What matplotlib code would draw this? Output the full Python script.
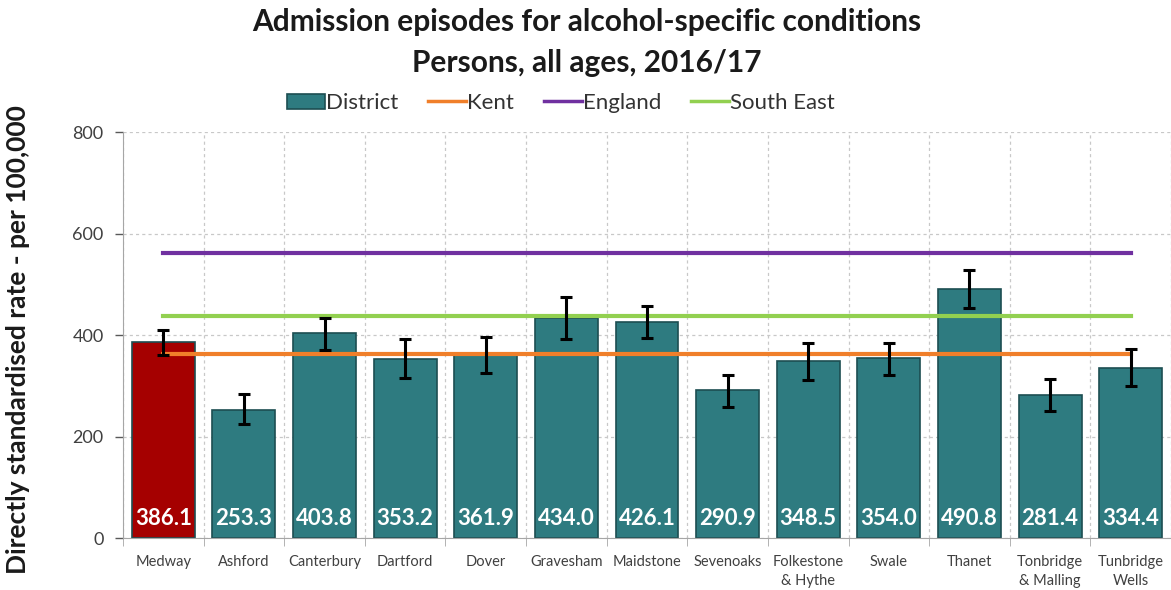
import matplotlib
matplotlib.use("Agg")
import matplotlib.pyplot as plt
from matplotlib.lines import Line2D
from matplotlib.patches import Patch
import numpy as np

districts = ["Medway", "Ashford", "Canterbury", "Dartford", "Dover", "Gravesham",
             "Maidstone", "Sevenoaks", "Folkestone\n& Hythe", "Swale", "Thanet",
             "Tonbridge\n& Malling", "Tunbridge\nWells"]
rates = [386.1, 253.3, 403.8, 353.2, 361.9, 434.0, 426.1, 290.9, 348.5, 354.0, 490.8, 281.4, 334.4]
ci_lower = [361, 225, 370, 315, 326, 392, 395, 259, 311, 321, 453, 251, 300]
ci_upper = [410, 283, 433, 392, 397, 475, 457, 321, 385, 385, 528, 313, 372]
kent = 362
england = 561
south_east = 437

teal = "#2E7B80"
edge = "#1C4E52"
red = "#A50000"
c_kent = "#F07F2A"
c_eng = "#7030A0"
c_se = "#92D050"

plt.rcParams["font.family"] = ["Lato", "DejaVu Sans"]

fig = plt.figure(figsize=(11.71, 5.90), dpi=100)
ax = fig.add_axes([0.105, 0.088, 0.895, 0.688])

n = len(districts)
x = np.arange(n)
colors = [red] + [teal] * (n - 1)
ax.bar(x, rates, width=0.78, color=colors, edgecolor=edge, linewidth=1.2, zorder=2)

ax.plot([x[0], x[-1]], [kent, kent], color=c_kent, lw=3, zorder=3)
ax.plot([x[0], x[-1]], [england, england], color=c_eng, lw=3, zorder=3)
ax.plot([x[0], x[-1]], [south_east, south_east], color=c_se, lw=3, zorder=3)

r = np.array(rates)
yerr = np.vstack([r - np.array(ci_lower), np.array(ci_upper) - r])
ax.errorbar(x, r, yerr=yerr, fmt="none", ecolor="black", elinewidth=2.2,
            capsize=4, capthick=2.2, zorder=4)

for xi, v in zip(x, rates):
    ax.text(xi, 38, f"{v:.1f}", ha="center", va="center", color="white",
            fontsize=16, fontweight="bold", zorder=5)

ax.set_xlim(-0.5, n - 0.5)
ax.set_ylim(0, 800)
ax.set_yticks([0, 200, 400, 600, 800])
ax.tick_params(axis="y", labelsize=13, colors="#595959", length=6, width=1, pad=8)
ax.tick_params(axis="y", labelcolor="#404040")

ax.set_xticks(x)
ax.set_xticklabels(districts, fontsize=10.5, color="#404040", va="top", linespacing=1.45)
ax.tick_params(axis="x", length=0, pad=12)
ax.set_xticks(np.arange(-0.5, n, 1.0), minor=True)
ax.tick_params(axis="x", which="minor", length=6, color="#A6A6A6")
ax.grid(axis="x", which="minor", color="#C8C8C8", linestyle=(0, (2.5, 2.5)), lw=0.9, zorder=0)
ax.grid(axis="y", which="major", color="#C8C8C8", linestyle=(0, (2.5, 2.5)), lw=0.9, zorder=0)
ax.set_axisbelow(True)

for s in ["top", "right"]:
    ax.spines[s].set_visible(False)
ax.spines["left"].set_color("#A6A6A6")
ax.spines["bottom"].set_color("#A6A6A6")

ax.set_ylabel("Directly standardised rate - per 100,000", fontsize=19, fontweight="bold",
              color="#1a1a1a")
ax.yaxis.set_label_coords(-0.089, 0.49)

fig.text(0.501, 0.962, "Admission episodes for alcohol-specific conditions", ha="center",
         va="center", fontsize=21.5, fontweight="bold", color="#1a1a1a")
fig.text(0.501, 0.893, "Persons, all ages, 2016/17", ha="center", va="center",
         fontsize=21.5, fontweight="bold", color="#1a1a1a")

handles = [Patch(facecolor=teal, edgecolor=edge, linewidth=1.2),
           Line2D([], [], color=c_kent, lw=2.5),
           Line2D([], [], color=c_eng, lw=2.5),
           Line2D([], [], color=c_se, lw=2.5)]
fig.legend(handles, ["District", "Kent", "England", "South East"], loc="center",
           bbox_to_anchor=(0.479, 0.825), ncol=4, frameon=False, fontsize=16,
           handlelength=1.7, handletextpad=0.05, columnspacing=1.35, labelcolor="#333333")

fig.savefig("out.png", dpi=100)
